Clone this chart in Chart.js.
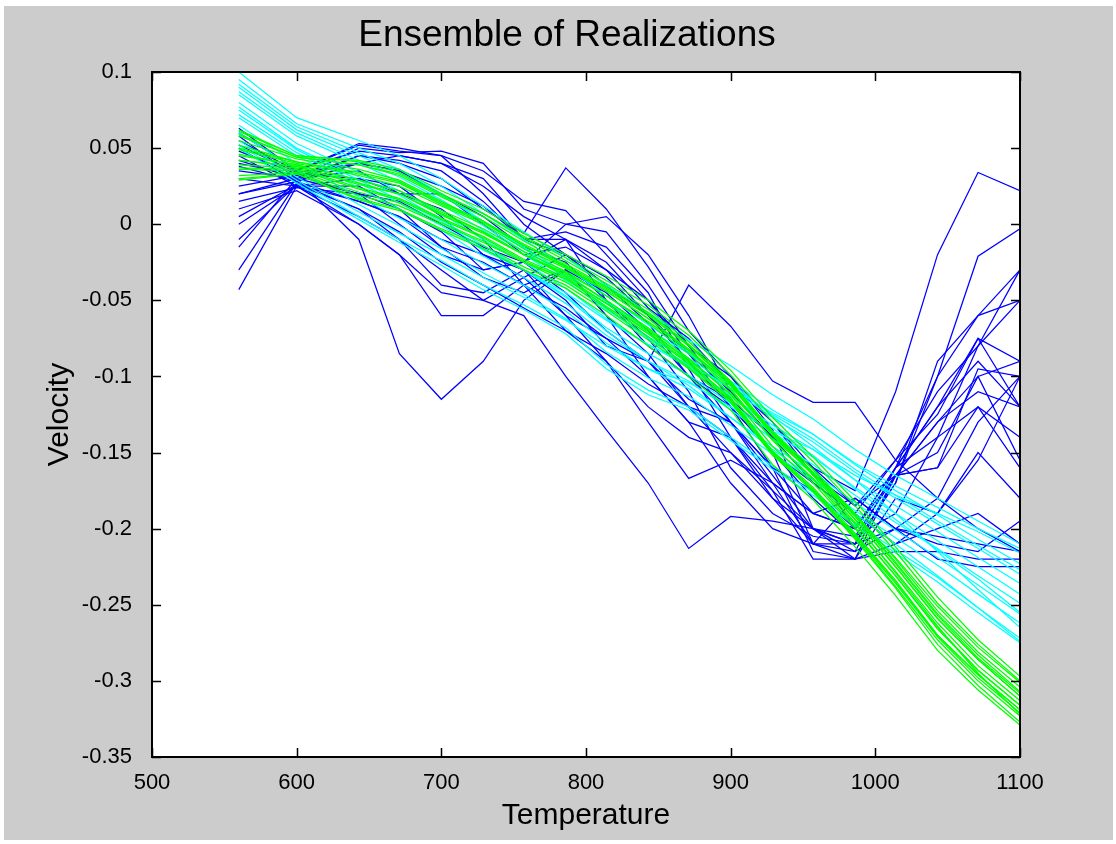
<!DOCTYPE html>
<html>
<head>
<meta charset="utf-8">
<title>Ensemble of Realizations</title>
<script src="https://cdn.jsdelivr.net/npm/chart.js@4/dist/chart.umd.min.js"></script>
<style>
  html, body { margin: 0; padding: 0; background: #ffffff; }
  #wrap { width: 1116px; height: 844px; }
</style>
</head>
<body>
<div id="wrap"><canvas id="ensemble" width="1116" height="844"></canvas></div>
<script>
// ---- data ----
const xTemps = [560, 600, 643, 671, 700, 729, 757, 786, 814, 843, 871, 900, 929, 957, 986, 1014, 1043, 1071, 1100];
const xTicks = [500, 600, 700, 800, 900, 1000, 1100];
const yTicks = [-0.35, -0.3, -0.25, -0.2, -0.15, -0.1, -0.05, 0, 0.05, 0.1];

// raw realizations (blue)
const blueRuns = [
  [0.063, 0.035, 0.052, 0.048, 0.045, 0.02, -0.01, -0.02, -0.035, -0.06, -0.085, -0.11, -0.14, -0.16, -0.175, -0.11, -0.02, 0.034, 0.022],
  [0.058, 0.03, 0.05, 0.047, 0.048, 0.04, 0.01, 0.0, -0.005, -0.04, -0.08, -0.1, -0.135, -0.2, -0.21, -0.17, -0.1, -0.021, -0.003],
  [0.05, 0.028, 0.045, 0.04, 0.03, 0.01, -0.006, 0.037, 0.01, -0.028, -0.07, -0.1, -0.13, -0.16, -0.2, -0.16, -0.14, -0.08, -0.03],
  [0.045, 0.025, 0.005, -0.01, -0.03, -0.05, -0.06, -0.1, -0.135, -0.17, -0.213, -0.192, -0.195, -0.2, -0.21, -0.2, -0.18, -0.13, -0.1],
  [0.02, 0.03, -0.01, -0.085, -0.115, -0.09, -0.05, -0.03, -0.06, -0.1, -0.13, -0.14, -0.18, -0.21, -0.215, -0.165, -0.13, -0.1, -0.09],
  [-0.043, 0.025, 0.0, -0.02, -0.06, -0.06, -0.04, -0.07, -0.09, -0.13, -0.167, -0.155, -0.17, -0.19, -0.2, -0.16, -0.1, -0.06, -0.05],
  [-0.03, 0.027, 0.01, -0.01, -0.04, -0.045, -0.03, -0.05, -0.08, -0.09, -0.04, -0.067, -0.103, -0.117, -0.117, -0.155, -0.18, -0.2, -0.215],
  [-0.015, 0.03, 0.02, 0.0, -0.02, -0.03, -0.025, -0.01, -0.05, -0.08, -0.1, -0.12, -0.15, -0.21, -0.21, -0.16, -0.12, -0.09, -0.12],
  [-0.01, 0.026, 0.015, 0.005, -0.01, -0.02, -0.035, -0.02, -0.04, -0.06, -0.09, -0.13, -0.16, -0.215, -0.22, -0.165, -0.15, -0.1, -0.155],
  [0.04, 0.032, 0.02, 0.01, -0.005, -0.03, -0.025, 0.0, 0.005, -0.02, -0.06, -0.11, -0.14, -0.17, -0.19, -0.21, -0.19, -0.15, -0.18],
  [0.035, 0.03, 0.035, 0.02, 0.01, -0.01, -0.04, -0.03, -0.045, -0.07, -0.1, -0.13, -0.165, -0.2, -0.215, -0.2, -0.205, -0.21, -0.215],
  [0.03, 0.025, 0.03, 0.025, 0.005, -0.02, -0.03, -0.06, -0.075, -0.09, -0.12, -0.15, -0.18, -0.2, -0.22, -0.215, -0.215, -0.22, -0.22],
  [0.025, 0.032, 0.04, 0.035, 0.02, 0.0, -0.02, -0.015, -0.03, -0.05, -0.08, -0.115, -0.15, -0.18, -0.205, -0.165, -0.13, -0.11, -0.12],
  [0.02, 0.028, 0.04, 0.045, 0.04, 0.025, 0.005, -0.01, -0.03, -0.06, -0.09, -0.12, -0.16, -0.19, -0.2, -0.16, -0.12, -0.075, -0.09],
  [0.015, 0.024, 0.02, 0.015, 0.0, -0.015, -0.025, -0.045, -0.07, -0.09, -0.115, -0.13, -0.17, -0.21, -0.18, -0.2, -0.22, -0.225, -0.225],
  [0.055, 0.035, 0.053, 0.05, 0.045, 0.035, 0.015, 0.009, -0.02, -0.05, -0.085, -0.12, -0.15, -0.17, -0.19, -0.155, -0.125, -0.075, -0.12],
  [0.01, 0.022, 0.0, -0.02, -0.045, -0.05, -0.035, -0.06, -0.09, -0.12, -0.14, -0.15, -0.175, -0.2, -0.205, -0.19, -0.14, -0.12, -0.16],
  [0.005, 0.026, 0.01, -0.005, -0.025, -0.04, -0.055, -0.07, -0.085, -0.105, -0.12, -0.14, -0.17, -0.19, -0.18, -0.2, -0.21, -0.215, -0.195],
  [0.048, 0.033, 0.03, 0.02, 0.02, 0.005, -0.015, -0.025, -0.05, -0.075, -0.11, -0.16, -0.19, -0.205, -0.21, -0.17, -0.09, -0.06, -0.03],
  [0.042, 0.03, 0.045, 0.042, 0.035, 0.015, -0.01, -0.005, -0.015, -0.045, -0.095, -0.14, -0.175, -0.22, -0.22, -0.18, -0.19, -0.155, -0.1],
  [0.06, 0.036, 0.048, 0.045, 0.04, 0.03, 0.0, -0.02, -0.04, -0.065, -0.1, -0.115, -0.14, -0.16, -0.185, -0.155, -0.11, -0.08, -0.05],
  [0.0, 0.025, 0.025, 0.01, -0.015, -0.035, -0.045, -0.03, -0.06, -0.085, -0.12, -0.13, -0.16, -0.175, -0.2, -0.165, -0.16, -0.095, -0.1],
  [0.038, 0.028, 0.015, 0.005, -0.015, -0.025, -0.04, -0.055, -0.075, -0.1, -0.13, -0.17, -0.2, -0.21, -0.22, -0.21, -0.2, -0.19, -0.21],
  [0.052, 0.034, 0.04, 0.035, 0.025, 0.012, -0.01, -0.01, -0.025, -0.055, -0.075, -0.105, -0.13, -0.165, -0.185, -0.165, -0.16, -0.12, -0.14]
];

// smoothed realizations (cyan)
const cyanRuns = [
  [0.1, 0.07, 0.055, 0.045, 0.03, 0.012, -0.005, -0.022, -0.04, -0.058, -0.076, -0.093, -0.112, -0.128, -0.148, -0.165, -0.18, -0.195, -0.21],
  [0.05, 0.027, 0.003, -0.012, -0.027, -0.043, -0.056, -0.072, -0.095, -0.112, -0.122, -0.142, -0.161, -0.178, -0.198, -0.216, -0.235, -0.255, -0.275],
  [0.09, 0.062, 0.045, 0.034, 0.019, 0.002, -0.015, -0.032, -0.051, -0.069, -0.085, -0.103, -0.122, -0.138, -0.158, -0.175, -0.191, -0.207, -0.223],
  [0.08, 0.053, 0.034, 0.022, 0.007, -0.01, -0.025, -0.042, -0.062, -0.079, -0.094, -0.113, -0.132, -0.148, -0.168, -0.185, -0.202, -0.219, -0.236],
  [0.07, 0.045, 0.024, 0.01, -0.004, -0.021, -0.035, -0.052, -0.073, -0.09, -0.103, -0.122, -0.141, -0.158, -0.178, -0.196, -0.213, -0.231, -0.249],
  [0.06, 0.036, 0.013, -0.001, -0.016, -0.032, -0.046, -0.062, -0.084, -0.101, -0.113, -0.132, -0.151, -0.168, -0.188, -0.206, -0.224, -0.243, -0.262],
  [0.095, 0.066, 0.05, 0.04, 0.025, 0.007, -0.01, -0.028, -0.047, -0.066, -0.084, -0.104, -0.126, -0.146, -0.168, -0.19, -0.215, -0.24, -0.265],
  [0.055, 0.031, 0.008, -0.006, -0.02, -0.035, -0.048, -0.063, -0.08, -0.095, -0.104, -0.12, -0.136, -0.148, -0.165, -0.178, -0.19, -0.202, -0.216],
  [0.085, 0.058, 0.04, 0.028, 0.013, -0.004, -0.02, -0.037, -0.056, -0.074, -0.09, -0.108, -0.127, -0.143, -0.163, -0.18, -0.197, -0.213, -0.23],
  [0.075, 0.049, 0.029, 0.016, 0.002, -0.016, -0.03, -0.047, -0.068, -0.085, -0.099, -0.118, -0.137, -0.153, -0.173, -0.19, -0.208, -0.225, -0.243],
  [0.065, 0.04, 0.018, 0.004, -0.01, -0.026, -0.04, -0.057, -0.078, -0.095, -0.108, -0.127, -0.146, -0.163, -0.183, -0.201, -0.219, -0.237, -0.256],
  [0.092, 0.064, 0.047, 0.036, 0.02, 0.002, -0.016, -0.034, -0.055, -0.075, -0.093, -0.113, -0.134, -0.152, -0.174, -0.194, -0.214, -0.233, -0.255],
  [0.072, 0.047, 0.027, 0.014, -0.001, -0.017, -0.03, -0.045, -0.063, -0.079, -0.092, -0.108, -0.124, -0.138, -0.157, -0.172, -0.186, -0.2, -0.213],
  [0.052, 0.029, 0.005, -0.01, -0.024, -0.04, -0.053, -0.068, -0.092, -0.109, -0.12, -0.14, -0.159, -0.176, -0.196, -0.214, -0.232, -0.252, -0.272],
  [0.077, 0.05, 0.031, 0.019, 0.003, -0.014, -0.03, -0.048, -0.07, -0.09, -0.106, -0.127, -0.148, -0.167, -0.19, -0.21, -0.231, -0.252, -0.274],
  [0.087, 0.06, 0.042, 0.031, 0.016, -0.001, -0.018, -0.035, -0.054, -0.072, -0.088, -0.106, -0.125, -0.141, -0.161, -0.178, -0.195, -0.211, -0.227]
];

// conditioned realizations (green)
const greenRuns = [
  [0.062, 0.045, 0.042, 0.036, 0.022, 0.010, -0.006, -0.020, -0.034, -0.050, -0.070, -0.096, -0.127, -0.153, -0.182, -0.212, -0.245, -0.273, -0.297],
  [0.058, 0.044, 0.039, 0.032, 0.018, 0.005, -0.011, -0.026, -0.041, -0.058, -0.079, -0.105, -0.138, -0.165, -0.196, -0.229, -0.264, -0.295, -0.322],
  [0.032, 0.034, 0.019, 0.012, 0.0, -0.012, -0.025, -0.036, -0.052, -0.070, -0.089, -0.111, -0.141, -0.163, -0.191, -0.219, -0.251, -0.278, -0.301],
  [0.052, 0.041, 0.034, 0.028, 0.014, 0.002, -0.013, -0.027, -0.042, -0.059, -0.079, -0.104, -0.136, -0.161, -0.191, -0.222, -0.256, -0.283, -0.307],
  [0.039, 0.037, 0.024, 0.017, 0.004, -0.008, -0.023, -0.035, -0.052, -0.071, -0.091, -0.114, -0.149, -0.173, -0.203, -0.234, -0.27, -0.296, -0.319],
  [0.046, 0.039, 0.029, 0.022, 0.009, -0.003, -0.018, -0.031, -0.047, -0.065, -0.085, -0.109, -0.142, -0.167, -0.197, -0.228, -0.262, -0.29, -0.313],
  [0.055, 0.043, 0.036, 0.029, 0.015, 0.002, -0.014, -0.028, -0.044, -0.062, -0.083, -0.108, -0.142, -0.168, -0.199, -0.231, -0.265, -0.293, -0.316],
  [0.042, 0.038, 0.027, 0.02, 0.007, -0.005, -0.02, -0.032, -0.047, -0.064, -0.083, -0.106, -0.137, -0.161, -0.19, -0.22, -0.254, -0.281, -0.304],
  [0.049, 0.04, 0.032, 0.025, 0.012, 0.0, -0.016, -0.029, -0.044, -0.062, -0.082, -0.106, -0.139, -0.164, -0.194, -0.225, -0.259, -0.286, -0.31],
  [0.036, 0.035, 0.021, 0.014, 0.001, -0.011, -0.025, -0.038, -0.055, -0.074, -0.094, -0.117, -0.152, -0.175, -0.206, -0.238, -0.273, -0.3, -0.323],
  [0.059, 0.044, 0.039, 0.033, 0.019, 0.007, -0.008, -0.022, -0.037, -0.053, -0.073, -0.099, -0.13, -0.156, -0.185, -0.215, -0.249, -0.276, -0.3],
  [0.03, 0.033, 0.017, 0.01, -0.003, -0.014, -0.028, -0.04, -0.057, -0.076, -0.095, -0.117, -0.151, -0.175, -0.204, -0.235, -0.27, -0.296, -0.319],
  [0.045, 0.039, 0.029, 0.022, 0.008, -0.005, -0.02, -0.034, -0.05, -0.069, -0.09, -0.115, -0.15, -0.176, -0.207, -0.239, -0.276, -0.303, -0.327],
  [0.061, 0.045, 0.041, 0.034, 0.02, 0.007, -0.009, -0.024, -0.039, -0.056, -0.077, -0.103, -0.137, -0.163, -0.194, -0.225, -0.259, -0.286, -0.31],
  [0.037, 0.036, 0.023, 0.016, 0.003, -0.009, -0.024, -0.036, -0.054, -0.072, -0.092, -0.116, -0.15, -0.174, -0.205, -0.236, -0.271, -0.298, -0.321],
  [0.029, 0.033, 0.016, 0.009, -0.004, -0.016, -0.030, -0.042, -0.060, -0.080, -0.100, -0.122, -0.158, -0.181, -0.212, -0.244, -0.280, -0.306, -0.329],
  [0.05, 0.041, 0.033, 0.027, 0.013, 0.001, -0.014, -0.028, -0.043, -0.06, -0.08, -0.105, -0.138, -0.163, -0.192, -0.223, -0.257, -0.285, -0.308],
  [0.042, 0.038, 0.026, 0.02, 0.006, -0.006, -0.02, -0.033, -0.05, -0.068, -0.088, -0.112, -0.146, -0.17, -0.2, -0.231, -0.266, -0.293, -0.316]
];

// ---- helpers ----
function makeSet(vals, color, order) {
    return {
        data: vals.map((v, i) => ({ x: xTemps[i], y: v })),
        borderColor: color,
        borderWidth: 1.25,
        pointRadius: 0,
        tension: 0,
        fill: false,
        order: order
    };
}

const datasets = [];
blueRuns.forEach(r => datasets.push(makeSet(r, '#0000ff', 3)));
cyanRuns.forEach(r => datasets.push(makeSet(r, '#00ffff', 2)));
greenRuns.forEach(r => datasets.push(makeSet(r, '#00ff00', 1)));

// figure background, white axes box, inward ticks, title
const figureFrame = {
    id: 'figureFrame',
    beforeDraw(chart) {
        const ctx = chart.ctx;
        ctx.save();
        ctx.fillStyle = '#ffffff';
        ctx.fillRect(0, 0, chart.width, chart.height);
        ctx.fillStyle = '#cccccc';
        ctx.fillRect(4, 6, chart.width - 7, chart.height - 10);
        const a = chart.chartArea;
        ctx.fillStyle = '#ffffff';
        ctx.fillRect(a.left, a.top, a.right - a.left, a.bottom - a.top);
        ctx.restore();
    },
    afterDatasetsDraw(chart) {
        const ctx = chart.ctx;
        const a = chart.chartArea;
        const xs = chart.scales.x, ys = chart.scales.y;
        const len = 9;
        ctx.save();
        ctx.strokeStyle = '#000000';
        ctx.lineWidth = 1.5;
        ctx.beginPath();
        xTicks.forEach(v => {
            const px = Math.round(xs.getPixelForValue(v)) + 0.5;
            ctx.moveTo(px, a.bottom); ctx.lineTo(px, a.bottom - len);
            ctx.moveTo(px, a.top); ctx.lineTo(px, a.top + len);
        });
        yTicks.forEach(v => {
            const py = Math.round(ys.getPixelForValue(v)) + 0.5;
            ctx.moveTo(a.left, py); ctx.lineTo(a.left + len, py);
            ctx.moveTo(a.right, py); ctx.lineTo(a.right - len, py);
        });
        ctx.stroke();
        ctx.lineWidth = 2;
        ctx.strokeRect(a.left, a.top, a.right - a.left, a.bottom - a.top);
        ctx.restore();
    },
    afterDraw(chart) {
        const ctx = chart.ctx;
        ctx.save();
        ctx.fillStyle = '#000000';
        ctx.font = '37px "Liberation Sans", Arial, sans-serif';
        ctx.textAlign = 'center';
        ctx.textBaseline = 'middle';
        ctx.fillText('Ensemble of Realizations', 567, 36);
        ctx.restore();
    }
};

Chart.defaults.font.family = '"Liberation Sans", Arial, sans-serif';
Chart.defaults.color = '#000000';

new Chart(document.getElementById('ensemble'), {
    type: 'line',
    data: { datasets: datasets },
    options: {
        responsive: false,
        animation: false,
        devicePixelRatio: 1,
        layout: { padding: { top: 72, right: 96, left: 0, bottom: 0 } },
        plugins: {
            legend: { display: false },
            tooltip: { enabled: false },
            title: { display: false }
        },
        scales: {
            x: {
                type: 'linear',
                min: 500,
                max: 1100,
                grid: { display: false },
                border: { display: false },
                afterBuildTicks: s => { s.ticks = xTicks.map(v => ({ value: v })); },
                afterFit: s => { s.height = 87; },
                ticks: { font: { size: 22 }, padding: 5, maxRotation: 0, autoSkip: false, callback: v => String(v) },
                title: { display: true, text: 'Temperature', font: { size: 30, lineHeight: 1.2 }, padding: { top: 0, bottom: 10 } }
            },
            y: {
                type: 'linear',
                min: -0.35,
                max: 0.1,
                grid: { display: false },
                border: { display: false },
                afterBuildTicks: s => { s.ticks = yTicks.map(v => ({ value: v })); },
                afterFit: s => { s.width = 152; },
                ticks: { font: { size: 22 }, padding: 12, autoSkip: false, callback: v => String(v) },
                title: { display: true, text: 'Velocity', font: { size: 30, lineHeight: 1.2 }, padding: { top: 42, bottom: 0 } }
            }
        }
    },
    plugins: [figureFrame]
});
</script>
</body>
</html>
